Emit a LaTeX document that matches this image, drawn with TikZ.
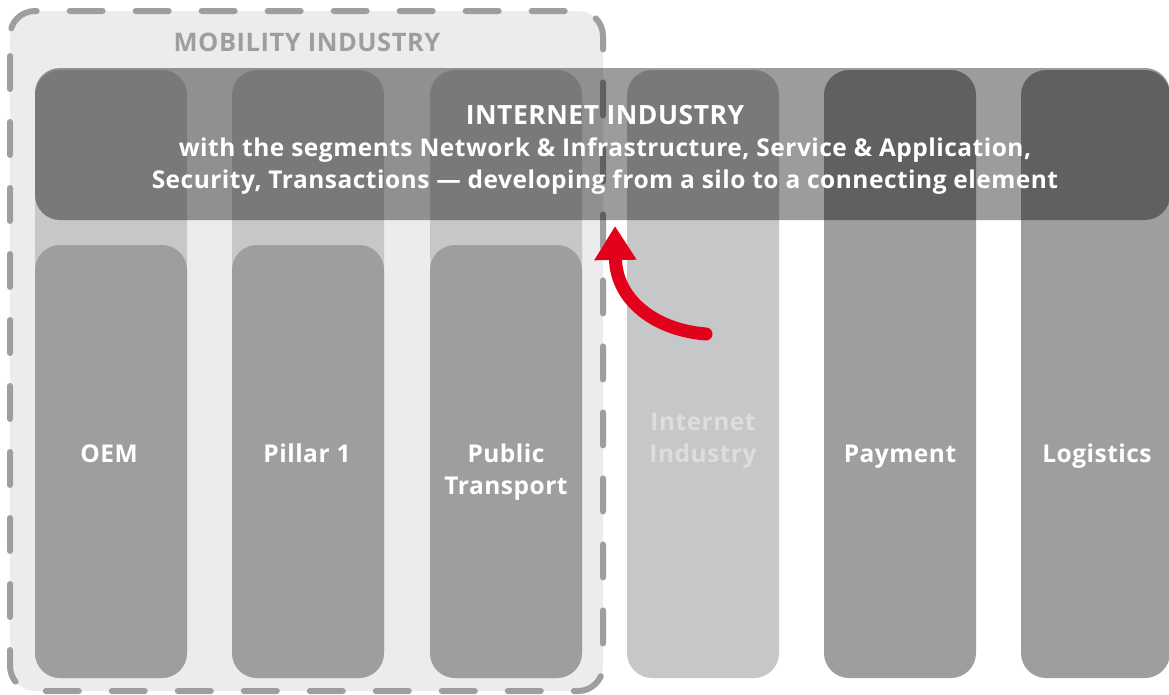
\documentclass[tikz,border=0pt]{standalone}
\usepackage{fontspec}
\setmainfont{Open Sans}[LetterSpace=2]
\usetikzlibrary{arrows.meta}
\definecolor{bgpale}{HTML}{ECECEC}
\definecolor{dashgray}{HTML}{9D9EA0}
\definecolor{tilegray}{HTML}{9D9EA0}
\definecolor{stripgray}{HTML}{C6C7C9}
\definecolor{ghosttext}{HTML}{DCDDDF}
\definecolor{arrowred}{HTML}{E2001A}
\tikzset{
  px/.style={x=1pt,y=-1pt},
  frame/.style={fill=bgpale,draw=dashgray,line width=6pt,line cap=round,
    dash pattern=on 33pt off 33pt,dash phase=-20pt,rounded corners=25pt},
  pale/.style={fill=stripgray,rounded corners=25pt},
  tile/.style={fill=tilegray,rounded corners=25pt},
  band/.style={fill=black,fill opacity=0.39,rounded corners=25pt},
  label/.style={font=\fontsize{24.5}{32}\selectfont\bfseries,text=white,align=center},
  headline/.style={font=\fontsize{24.5}{32}\selectfont\bfseries,text=white,align=center},
  flow/.style={draw=arrowred,line width=13pt,line cap=round,
    -{Triangle[length=34pt,width=40pt]}}
}
\begin{document}
\begin{tikzpicture}[px]
\useasboundingbox (0,0) rectangle (1169,694);
\clip (0,0) rectangle (1169,694);

% dashed frame of the mobility industry
\path[frame] (10,11) rectangle (603,691);

% mobility pillars: pale column with a darker lower tile
\foreach \x in {35,232,430}{
  \path[pale] (\x,70) rectangle ++(152,608);
  \path[tile] (\x,245) rectangle ++(152,433);
}
% internet industry pillar
\path[pale] (627,70) rectangle (779,678);
% other industries
\path[tile] (824,70) rectangle (976,678);
\path[tile] (1021,70) rectangle (1170,678);

% horizontal internet band over all pillars
\path[band] (35,68) rectangle (1170,220);

% development arrow
\coordinate (arrstart) at (706,334);
\coordinate (arrend) at (615,226);
\draw[flow] (arrstart) .. controls (655,330) and (616,300) .. (arrend);

% texts
\node[font=\fontsize{25.5}{28}\selectfont\bfseries,text=dashgray] (mob) at (307,42) {MOBILITY INDUSTRY};
\node[headline,font=\fontsize{26.5}{32}\selectfont\bfseries,anchor=base] (inet) at (605,124) {INTERNET INDUSTRY};
\node[headline,anchor=base] (seg1) at (605,156) {with the segments Network \& Infrastructure, Service \& Application,};
\node[headline,anchor=base] (seg2) at (605,188) {Security, Transactions --- developing from a silo to a connecting element};

\node[label,anchor=base] (oem) at (109,462) {OEM};
\node[label,anchor=base] (pil) at (307,462) {Pillar 1};
\node[label] (pub) at (506,472) {Public\\Transport};
\node[label,text=ghosttext] (ii) at (703,441) {Internet\\Industry};
\node[label,anchor=base] (pay) at (900,462) {Payment};
\node[label,anchor=base] (log) at (1097,462) {Logistics};
\end{tikzpicture}
\end{document}
